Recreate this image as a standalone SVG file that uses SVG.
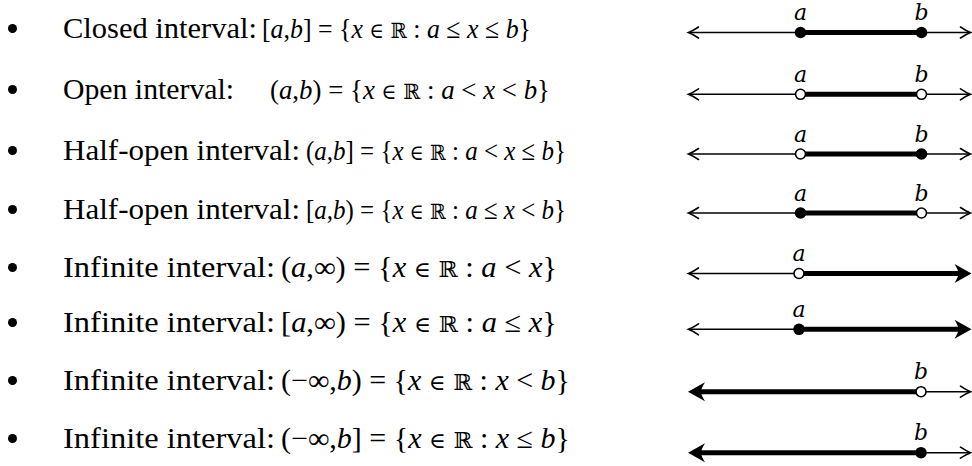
<svg xmlns="http://www.w3.org/2000/svg" width="972" height="466" viewBox="0 0 972 466">
<style>
.lbl{font-family:"Liberation Serif","DejaVu Serif",serif;font-size:29px;fill:#000}
.m{font-family:"Liberation Serif","DejaVu Serif",serif;fill:#000}
.m1{font-size:28px}
.m3{font-size:28px}
.m5{font-size:29px}
.i{font-style:italic}
.s{font-family:"DejaVu Serif","Liberation Serif",serif;font-size:0.76em}
.pt{font-family:"DejaVu Serif","Liberation Serif",serif;font-size:22px;font-style:italic;fill:#000;text-anchor:middle}
.thin{stroke:#000;stroke-width:1.6;fill:none}
.thick{stroke:#000;stroke-width:5;fill:none}
.ah{stroke:#000;stroke-width:1.6;fill:none;stroke-linecap:round}
.bh{fill:#000;stroke:none}
.cl{fill:#000}
.op{fill:#fff;stroke:#000;stroke-width:1.6}
.bul{fill:#000}
</style>
<defs>
<path id="tl" class="ah" d="M10,-5.5 Q4,-1.5 0,0 Q4,1.5 10,5.5"/>
<path id="tr" class="ah" d="M-10,-5.5 Q-4,-1.5 0,0 Q-4,1.5 -10,5.5"/>
<path id="bl" class="bh" d="M0,0 L17,-9.5 Q13,-3 13,0 Q13,3 17,9.5 Z"/>
<path id="br" class="bh" d="M0,0 L-17,-9.5 Q-13,-3 -13,0 Q-13,3 -17,9.5 Z"/>
</defs>

<g id="row1">
<circle class="bul" cx="12.5" cy="28.5" r="4.5"/>
<text class="lbl" x="63" y="38" textLength="194" lengthAdjust="spacingAndGlyphs">Closed interval:</text>
<text class="m m1" x="262" y="38" textLength="269" lengthAdjust="spacingAndGlyphs">[<tspan class="i">a</tspan>,<tspan class="i">b</tspan>] = {<tspan class="i">x</tspan> <tspan class="s">∈</tspan> <tspan class="s">ℝ</tspan> : <tspan class="i">a</tspan> ≤ <tspan class="i">x</tspan> ≤ <tspan class="i">b</tspan>}</text>
</g>
<g id="row2">
<circle class="bul" cx="12.5" cy="89.5" r="4.5"/>
<text class="lbl" x="63" y="99" textLength="171" lengthAdjust="spacingAndGlyphs">Open interval:</text>
<text class="m m1" x="270" y="99" textLength="280" lengthAdjust="spacingAndGlyphs">(<tspan class="i">a</tspan>,<tspan class="i">b</tspan>) = {<tspan class="i">x</tspan> <tspan class="s">∈</tspan> <tspan class="s">ℝ</tspan> : <tspan class="i">a</tspan> &lt; <tspan class="i">x</tspan> &lt; <tspan class="i">b</tspan>}</text>
</g>
<g id="row3">
<circle class="bul" cx="12.5" cy="150.5" r="4.5"/>
<text class="lbl" x="63" y="160" textLength="237" lengthAdjust="spacingAndGlyphs">Half-open interval:</text>
<text class="m m3" x="306" y="160" textLength="260" lengthAdjust="spacingAndGlyphs">(<tspan class="i">a</tspan>,<tspan class="i">b</tspan>] = {<tspan class="i">x</tspan> <tspan class="s">∈</tspan> <tspan class="s">ℝ</tspan> : <tspan class="i">a</tspan> &lt; <tspan class="i">x</tspan> ≤ <tspan class="i">b</tspan>}</text>
</g>
<g id="row4">
<circle class="bul" cx="12.5" cy="209.5" r="4.5"/>
<text class="lbl" x="63" y="219" textLength="237" lengthAdjust="spacingAndGlyphs">Half-open interval:</text>
<text class="m m3" x="306" y="219" textLength="260" lengthAdjust="spacingAndGlyphs">[<tspan class="i">a</tspan>,<tspan class="i">b</tspan>) = {<tspan class="i">x</tspan> <tspan class="s">∈</tspan> <tspan class="s">ℝ</tspan> : <tspan class="i">a</tspan> ≤ <tspan class="i">x</tspan> &lt; <tspan class="i">b</tspan>}</text>
</g>
<g id="row5">
<circle class="bul" cx="12.5" cy="267.5" r="4.5"/>
<text class="lbl" x="63" y="277" textLength="212" lengthAdjust="spacingAndGlyphs">Infinite interval:</text>
<text class="m m5" x="281" y="277" textLength="276" lengthAdjust="spacingAndGlyphs">(<tspan class="i">a</tspan>,∞) = {<tspan class="i">x</tspan> <tspan class="s">∈</tspan> <tspan class="s">ℝ</tspan> : <tspan class="i">a</tspan> &lt; <tspan class="i">x</tspan>}</text>
</g>
<g id="row6">
<circle class="bul" cx="12.5" cy="322.5" r="4.5"/>
<text class="lbl" x="63" y="332" textLength="212" lengthAdjust="spacingAndGlyphs">Infinite interval:</text>
<text class="m m5" x="281" y="332" textLength="276" lengthAdjust="spacingAndGlyphs">[<tspan class="i">a</tspan>,∞) = {<tspan class="i">x</tspan> <tspan class="s">∈</tspan> <tspan class="s">ℝ</tspan> : <tspan class="i">a</tspan> ≤ <tspan class="i">x</tspan>}</text>
</g>
<g id="row7">
<circle class="bul" cx="12.5" cy="380.5" r="4.5"/>
<text class="lbl" x="63" y="390" textLength="212" lengthAdjust="spacingAndGlyphs">Infinite interval:</text>
<text class="m m5" x="281" y="390" textLength="289" lengthAdjust="spacingAndGlyphs">(−∞,<tspan class="i">b</tspan>) = {<tspan class="i">x</tspan> <tspan class="s">∈</tspan> <tspan class="s">ℝ</tspan> : <tspan class="i">x</tspan> &lt; <tspan class="i">b</tspan>}</text>
</g>
<g id="row8">
<circle class="bul" cx="12.5" cy="438.5" r="4.5"/>
<text class="lbl" x="63" y="448" textLength="212" lengthAdjust="spacingAndGlyphs">Infinite interval:</text>
<text class="m m5" x="281" y="448" textLength="289" lengthAdjust="spacingAndGlyphs">(−∞,<tspan class="i">b</tspan>] = {<tspan class="i">x</tspan> <tspan class="s">∈</tspan> <tspan class="s">ℝ</tspan> : <tspan class="i">x</tspan> ≤ <tspan class="i">b</tspan>}</text>
</g>

<g id="connectors">
<line class="thin" x1="689" y1="32.5" x2="970" y2="32.5"/>
<use href="#tl" x="688.5" y="32.5"/><use href="#tr" x="970.5" y="32.5"/>
<line class="thick" x1="800" y1="32.5" x2="921" y2="32.5"/>
<line class="thin" x1="689" y1="94.3" x2="970" y2="94.3"/>
<use href="#tl" x="688.5" y="94.3"/><use href="#tr" x="970.5" y="94.3"/>
<line class="thick" x1="800" y1="94.3" x2="921" y2="94.3"/>
<line class="thin" x1="689" y1="154" x2="970" y2="154"/>
<use href="#tl" x="688.5" y="154"/><use href="#tr" x="970.5" y="154"/>
<line class="thick" x1="800" y1="154" x2="921" y2="154"/>
<line class="thin" x1="689" y1="213" x2="970" y2="213"/>
<use href="#tl" x="688.5" y="213"/><use href="#tr" x="970.5" y="213"/>
<line class="thick" x1="800" y1="213" x2="921" y2="213"/>
<line class="thin" x1="689" y1="273.5" x2="799" y2="273.5"/>
<use href="#tl" x="688.5" y="273.5"/>
<line class="thick" x1="799" y1="273.5" x2="960" y2="273.5"/>
<use href="#br" x="971.5" y="273.5"/>
<line class="thin" x1="689" y1="329.3" x2="799" y2="329.3"/>
<use href="#tl" x="688.5" y="329.3"/>
<line class="thick" x1="799" y1="329.3" x2="960" y2="329.3"/>
<use href="#br" x="971.5" y="329.3"/>
<line class="thick" x1="700" y1="391.7" x2="921" y2="391.7"/>
<use href="#bl" x="688" y="391.7"/>
<line class="thin" x1="921" y1="391.7" x2="970" y2="391.7"/>
<use href="#tr" x="970.5" y="391.7"/>
<line class="thick" x1="700" y1="452.7" x2="921" y2="452.7"/>
<use href="#bl" x="688" y="452.7"/>
<line class="thin" x1="921" y1="452.7" x2="970" y2="452.7"/>
<use href="#tr" x="970.5" y="452.7"/>
</g>

<g id="points">
<circle class="cl" cx="800.5" cy="32.5" r="5.8"/><circle class="cl" cx="921.5" cy="32.5" r="5.8"/>
<text class="pt" x="800.5" y="20">a</text><text class="pt" x="921.5" y="20">b</text>
<circle class="op" cx="800.5" cy="94.3" r="5"/><circle class="op" cx="921.5" cy="94.3" r="5"/>
<text class="pt" x="800.5" y="82">a</text><text class="pt" x="921.5" y="82">b</text>
<circle class="op" cx="800.5" cy="154" r="5"/><circle class="cl" cx="921.5" cy="154" r="5.8"/>
<text class="pt" x="800.5" y="141.5">a</text><text class="pt" x="921.5" y="141.5">b</text>
<circle class="cl" cx="800.5" cy="213" r="5.8"/><circle class="op" cx="921.5" cy="213" r="5"/>
<text class="pt" x="800.5" y="200.5">a</text><text class="pt" x="921.5" y="200.5">b</text>
<circle class="op" cx="799" cy="273.5" r="5"/>
<text class="pt" x="799" y="261">a</text>
<circle class="cl" cx="799" cy="329.3" r="5.8"/>
<text class="pt" x="799" y="317">a</text>
<circle class="op" cx="921" cy="391.7" r="5"/>
<text class="pt" x="921" y="379">b</text>
<circle class="cl" cx="921" cy="452.7" r="5.8"/>
<text class="pt" x="921" y="440">b</text>
</g>
</svg>
